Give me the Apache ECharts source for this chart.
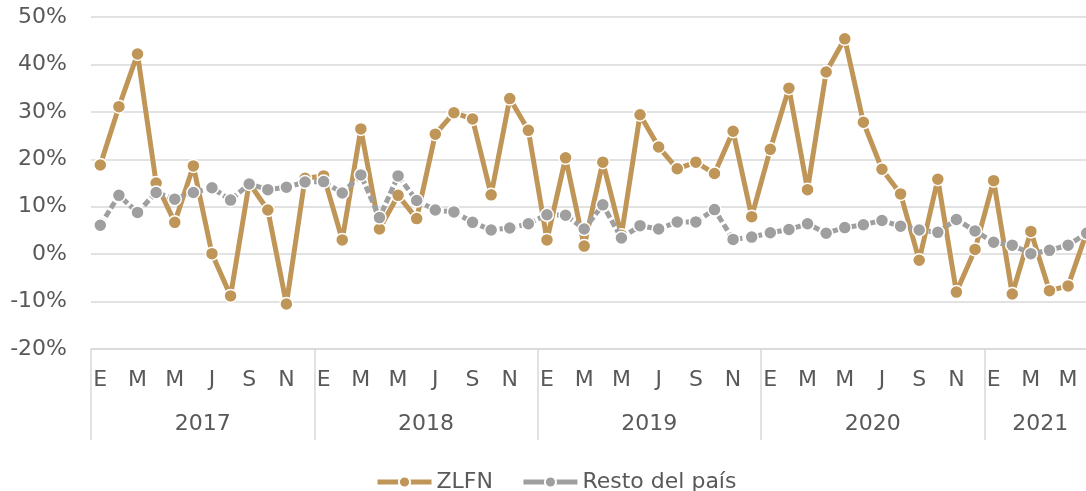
<!DOCTYPE html>
<html>
<head>
<meta charset="utf-8">
<script src="https://cdn.jsdelivr.net/npm/echarts@6/dist/echarts.min.js"></script>
<style>
  html, body { margin: 0; padding: 0; background: #ffffff; }
  #chart { width: 1086px; height: 491px; }
</style>
</head>
<body>
<div id="chart"></div>
<script>
// Month initials (Spanish) and the years covered by the series
const mesesIniciales = ['E', 'F', 'M', 'A', 'M', 'J', 'J', 'A', 'S', 'O', 'N', 'D'];
const anios = ['2017', '2018', '2019', '2020', '2021'];
const mesesPorAnio = [12, 12, 12, 12, 6];

// Annual variation (%) by month
const zlfn = [
  18.8, 31.1, 42.2, 15.0, 6.7, 18.6, 0.1, -8.8, 15.0, 9.3, -10.5, 16.0,
  16.5, 3.0, 26.4, 5.3, 12.4, 7.5, 25.3, 29.8, 28.5, 12.5, 32.8, 26.1,
  3.0, 20.3, 1.7, 19.4, 4.0, 29.4, 22.6, 18.0, 19.4, 17.0, 25.9, 7.9,
  22.1, 35.0, 13.6, 38.4, 45.4, 27.8, 17.9, 12.7, -1.3, 15.8, -8.0, 1.0,
  15.5, -8.4, 4.8, -7.7, -6.7, 4.6
];
const restoPais = [
  6.1, 12.4, 8.8, 13.0, 11.6, 13.0, 14.0, 11.4, 14.8, 13.6, 14.1, 15.2,
  15.3, 12.9, 16.7, 7.7, 16.5, 11.3, 9.3, 8.9, 6.7, 5.1, 5.5, 6.4,
  8.3, 8.2, 5.3, 10.4, 3.4, 6.0, 5.3, 6.8, 6.8, 9.4, 3.1, 3.6,
  4.5, 5.2, 6.4, 4.4, 5.6, 6.2, 7.1, 5.9, 5.1, 4.6, 7.3, 4.9,
  2.5, 1.9, 0.1, 0.8, 1.9, 4.4
];

// Build the monthly categories and remember where each year starts / is centred
const periodos = [];
const inicioAnio = {};
const centroAnio = {};
anios.forEach((a, k) => {
  const inicio = periodos.length;
  inicioAnio[inicio] = a;
  centroAnio[inicio + mesesPorAnio[k] / 2 - 1] = a;
  for (let m = 0; m < mesesPorAnio[k]; m++) periodos.push(a + '-' + (m + 1));
});

const FONT = 'DejaVu Sans';
const TXT = '#595959';
const GRID = '#d9d9d9';
const ORO = '#BF9658';
const GRIS = '#A09FA0';

const chart = echarts.init(document.getElementById('chart'), null, { renderer: 'canvas' });

chart.setOption({
  backgroundColor: '#ffffff',
  animation: false,
  textStyle: { fontFamily: FONT },
  // the plot runs a little past the right edge of the canvas
  grid: {
    left: 91, width: 1005, top: 17, bottom: 142,
    containLabel: false,
    outerBoundsMode: 'none'
  },
  legend: {
    left: 370,
    top: 466,
    itemWidth: 54,
    itemHeight: 14,
    itemGap: 28,
    textStyle: { fontFamily: FONT, fontSize: 22, color: TXT },
    lineStyle: { type: 'solid', width: 5 },
    data: ['ZLFN', 'Resto del país']
  },
  xAxis: [
    {
      type: 'category',
      data: periodos,
      position: 'bottom',
      boundaryGap: true,
      axisLine: { show: true, onZero: false, lineStyle: { color: GRID, width: 1.5 } },
      axisTick: {
        show: true,
        length: 91,
        interval: (i) => inicioAnio[i] !== undefined,
        lineStyle: { color: GRID, width: 1.5 }
      },
      axisLabel: {
        interval: 1,
        margin: 20,
        fontFamily: FONT,
        fontSize: 22,
        color: TXT,
        formatter: (v) => mesesIniciales[Number(v.split('-')[1]) - 1]
      },
      splitLine: { show: false }
    },
    {
      type: 'category',
      data: periodos,
      position: 'bottom',
      boundaryGap: true,
      axisLine: { show: false, onZero: false },
      axisTick: { show: false },
      axisLabel: {
        interval: (i) => centroAnio[i] !== undefined,
        margin: 64,
        fontFamily: FONT,
        fontSize: 22,
        color: TXT,
        padding: [0, 0, 0, 18.6],
        formatter: (v) => v.split('-')[0]
      },
      splitLine: { show: false }
    }
  ],
  yAxis: {
    type: 'value',
    min: -20,
    max: 50,
    interval: 10,
    axisLine: { show: false },
    axisTick: { show: false },
    axisLabel: {
      margin: 24,
      fontFamily: FONT,
      fontSize: 22,
      color: TXT,
      formatter: '{value}%'
    },
    splitLine: { show: true, lineStyle: { color: GRID, width: 1.5 } }
  },
  series: [
    {
      name: 'ZLFN',
      type: 'line',
      xAxisIndex: 0,
      data: zlfn,
      symbol: 'circle',
      symbolSize: 13,
      showAllSymbol: true,
      lineStyle: { color: ORO, width: 5 },
      itemStyle: { color: ORO, borderColor: '#ffffff', borderWidth: 1.5 },
      z: 2
    },
    {
      name: 'Resto del país',
      type: 'line',
      xAxisIndex: 0,
      data: restoPais,
      symbol: 'circle',
      symbolSize: 13,
      showAllSymbol: true,
      lineStyle: { color: GRIS, width: 5, type: [7, 3] },
      itemStyle: { color: GRIS, borderColor: '#ffffff', borderWidth: 1.5 },
      z: 3
    }
  ]
});
</script>
</body>
</html>
